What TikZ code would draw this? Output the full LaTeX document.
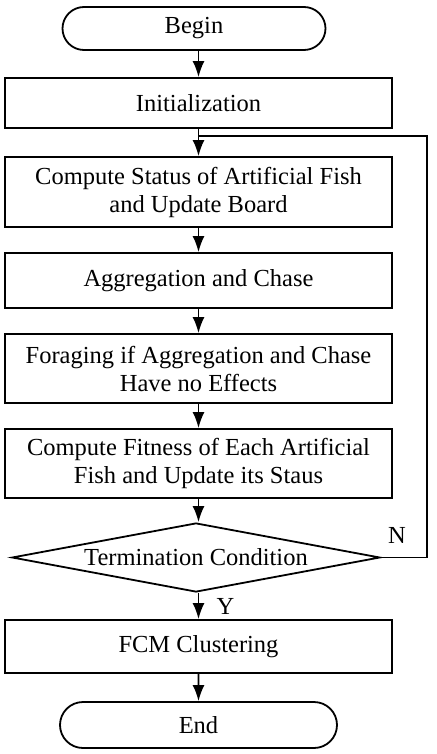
\documentclass[tikz,border=0pt]{standalone}
\usepackage{fontspec}
\setmainfont{Liberation Serif}
\usetikzlibrary{arrows.meta,shapes.geometric,shapes.misc}

\tikzset{
    flow/.style={line width=1.8pt, -{Latex[length=16pt,width=12pt]}},
    stepbox/.style={draw, line width=1.8pt, minimum width=387pt, align=center, inner sep=0pt},
    term/.style={draw, line width=1.8pt, rounded rectangle, inner sep=0pt},
    txt/.style={font=\fontsize{24.5}{28}\selectfont}
}

\begin{document}
\begin{tikzpicture}[x=1pt,y=-1pt,txt]
    \useasboundingbox (0,0) rectangle (436,754);

    \node[term, minimum width=263pt, minimum height=43pt] (begin) at (194,28.5) {Begin};
    \node[stepbox, minimum height=50pt] (init) at (198.5,103) {Initialization};
    \node[stepbox, minimum height=70pt] (status) at (198.5,192) {Compute Status of Artificial Fish\\and Update Board};
    \node[stepbox, minimum height=55pt] (aggr) at (198.5,280.5) {Aggregation and Chase};
    \node[stepbox, minimum height=69pt] (forage) at (198.5,368.5) {Foraging if Aggregation and Chase\\Have no Effects};
    \node[stepbox, minimum height=69pt] (fitness) at (198.5,463.5) {Compute Fitness of Each Artificial\\Fish and Update its Staus};
    \node[draw, line width=1.8pt, diamond, inner sep=0pt, minimum width=368pt, minimum height=69pt] (cond) at (196,557.5) {};
    \node at (cond) {Termination Condition};
    \node[stepbox, minimum height=53pt] (fcm) at (198.5,646.5) {FCM Clustering};
    \node[term, minimum width=277pt, minimum height=46pt] (end) at (198.5,725) {End};

    \coordinate (joint) at (init.south |- 0,136);
    \coordinate (corner) at (427,136);

    % main flow
    \draw[flow] (begin.south -| init.south) -- (init.north);
    \draw[flow] (init.south) -- (status.north);
    \draw[flow] (status) -- (aggr);
    \draw[flow] (aggr) -- (forage);
    \draw[flow] (forage) -- (fitness);
    \draw[flow] (fitness.south) -- (cond.north -| fitness.south);
    \draw[flow] (cond.south -| fcm.north) -- (fcm.north) node[pos=0.5, right=14pt] {Y};
    \draw[flow] (fcm) -- (end);

    % loop back
    \draw[line width=1.8pt] (cond.east) -| (corner) -- (joint);
    \node (no) at (397,535) {N};
\end{tikzpicture}
\end{document}
